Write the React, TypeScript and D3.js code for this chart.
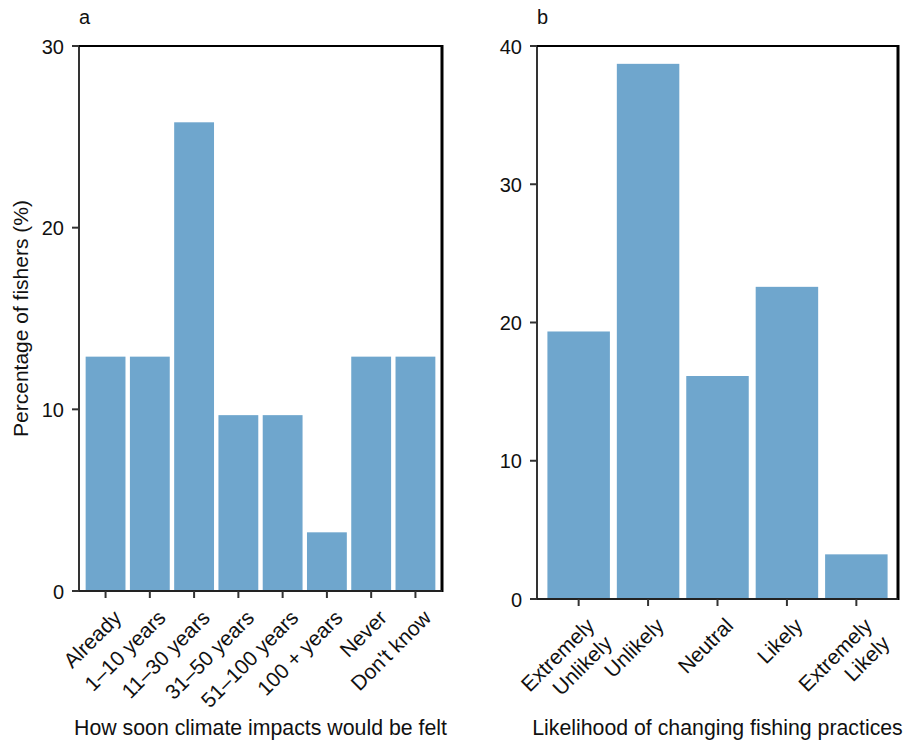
import React from "react";
import * as d3 from "d3";

const catsA = ["Already", "1–10 years", "11–30 years", "31–50 years", "51–100 years", "100 + years", "Never", "Don't know"];
const valsA = [12.9, 12.9, 25.8, 9.68, 9.68, 3.23, 12.9, 12.9];
const ticksA = [0, 10, 20, 30];

const catsB = ["Extremely\nUnlikely", "Unlikely", "Neutral", "Likely", "Extremely\nLikely"];
const valsB = [19.35, 38.71, 16.13, 22.58, 3.23];
const ticksB = [0, 10, 20, 30, 40];

const BAR = "#6fa6cd";
const FONT = "'Liberation Sans', Arial, Helvetica, sans-serif";

type PanelProps = {
  cats: string[];
  vals: number[];
  ticks: number[];
  ymax: number;
  left: number;
  right: number;
  top: number;
  bottom: number;
  letter: string;
  xTitle: string;
  yTitle?: string;
};

function Panel(p: PanelProps) {
  const x = d3.scaleBand<string>().domain(p.cats).range([p.left, p.right]).paddingInner(0.1).paddingOuter(0.15);
  const y = d3.scaleLinear().domain([0, p.ymax]).range([p.bottom, p.top]);
  const cx = (p.left + p.right) / 2;
  return (
    <g>
      <text x={p.left} y={24} fontSize={20} fill="#111">{p.letter}</text>
      {p.cats.map((c, i) => (
        <rect key={c} x={x(c)} y={y(p.vals[i])} width={x.bandwidth()} height={y(0) - y(p.vals[i])} fill={BAR} />
      ))}
      {/* top & right frame */}
      <line x1={p.left} x2={p.right} y1={p.top} y2={p.top} stroke="#000" strokeWidth={2} />
      <line x1={p.right} x2={p.right} y1={p.top - 1} y2={p.bottom + 1} stroke="#000" strokeWidth={3} />
      {/* left spine */}
      <line x1={p.left} x2={p.left} y1={p.top} y2={p.bottom} stroke="#000" strokeWidth={1.6} />
      {/* bottom axis */}
      <line x1={p.left - 7} x2={p.right} y1={p.bottom} y2={p.bottom} stroke="#222" strokeWidth={2.2} />
      {p.ticks.map((t) => (
        <g key={t}>
          <line x1={p.left - 7} x2={p.left} y1={y(t)} y2={y(t)} stroke="#333" strokeWidth={2} />
          <text x={p.left - 15} y={y(t) + 7.5} textAnchor="end" fontSize={20} fill="#111">{t}</text>
        </g>
      ))}
      {p.cats.map((c) => {
        const tx = (x(c) as number) + x.bandwidth() / 2;
        const lines = c.split("\n");
        return (
          <g key={c}>
            <line x1={tx} x2={tx} y1={p.bottom} y2={p.bottom + 7} stroke="#333" strokeWidth={2} />
            <g transform={`translate(${tx + 17},${p.bottom + 28}) rotate(-45)`}>
              <text textAnchor="end" fontSize={21} fill="#111">
                {lines.map((l, j) => (
                  <tspan key={j} x={0} dy={j === 0 ? 0 : 25}>{l}</tspan>
                ))}
              </text>
            </g>
          </g>
        );
      })}
      <text x={cx} y={735} textAnchor="middle" fontSize={21.3} fill="#111">{p.xTitle}</text>
      {p.yTitle && (
        <text transform={`translate(27.5,${(p.top + p.bottom) / 2}) rotate(-90)`} textAnchor="middle" fontSize={21} fill="#111">{p.yTitle}</text>
      )}
    </g>
  );
}

export default function App() {
  return (
    <svg width={906} height={741} style={{ position: "absolute", left: 0, top: 0, fontFamily: FONT, background: "#fff" }}>
      <rect width={906} height={741} fill="#fff" />
      <Panel cats={catsA} vals={valsA} ticks={ticksA} ymax={30} left={79} right={442} top={46} bottom={591} letter="a" xTitle="How soon climate impacts would be felt" yTitle="Percentage of fishers (%)" />
      <Panel cats={catsB} vals={valsB} ticks={ticksB} ymax={40} left={537} right={898} top={46} bottom={599} letter="b" xTitle="Likelihood of changing fishing practices" />
    </svg>
  );
}
